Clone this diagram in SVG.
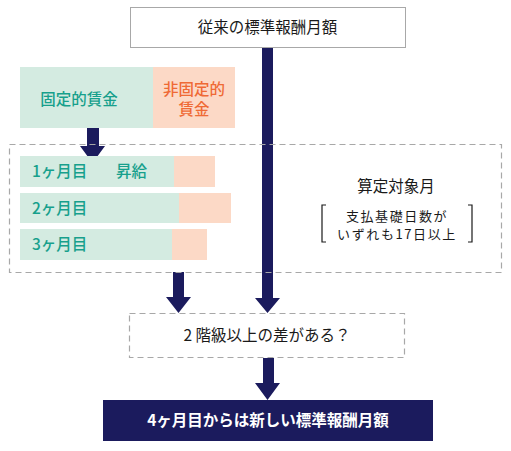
<svg xmlns="http://www.w3.org/2000/svg" width="511" height="451" viewBox="0 0 511 451">
<style>
text{font-family:"Noto Sans CJK JP","Noto Sans",sans-serif;}
.blk{fill:#1a1a1a;font-size:15.5px;}
.sm{fill:#1a1a1a;font-size:13px;letter-spacing:1.6px;}
.teal{fill:#17a08c;font-size:15.5px;font-weight:500;}
.org{fill:#ef6a35;font-size:15.5px;font-weight:500;}
.green{fill:#d4ebe1;}
.peach{fill:#fcd9c6;}
.dash{fill:none;stroke:#a8a8a8;stroke-width:1.2;stroke-dasharray:6 4;}
.navy{fill:#1b1b5d;}
</style>
<g id="connectors">
<path class="navy" d="M262,47 H273 V298 H280 L267.5,313 L255,298 H262 Z"/>
<path class="navy" d="M87,128 H99 V146 H105 L92.5,163 L80,146 H87 Z"/>
<path class="navy" d="M173,272 H184 V297 H191 L178.5,313 L166,297 H173 Z"/>
<path class="navy" d="M263,358 H274 V383 H280 L267.5,400 L255,383 H263 Z"/>
</g>
<g id="top-box">
<rect x="130.5" y="7.5" width="275" height="40" fill="#fff" stroke="#a8a8a8" stroke-width="1"/>
<text class="blk" x="267.5" y="33" text-anchor="middle">従来の標準報酬月額</text>
</g>
<g id="wage">
<rect class="green" x="20" y="67" width="133" height="61"/>
<rect class="peach" x="153" y="67" width="82" height="61"/>
<text class="teal" x="79" y="105" text-anchor="middle">固定的賃金</text>
<text class="org" text-anchor="middle"><tspan x="194" y="95">非固定的</tspan><tspan x="194" y="115">賃金</tspan></text>
</g>
<g id="months">
<rect class="dash" x="9.5" y="144.5" width="492" height="128"/>
<rect class="green" x="20" y="156" width="154" height="31"/>
<rect class="peach" x="174" y="156" width="41" height="31"/>
<rect class="green" x="20" y="193" width="159" height="30"/>
<rect class="peach" x="179" y="193" width="52" height="30"/>
<rect class="green" x="20" y="229" width="152" height="31"/>
<rect class="peach" x="172" y="229" width="35" height="31"/>
<text class="teal" x="32" y="177">1ヶ月目</text>
<text class="teal" x="116" y="177">昇給</text>
<text class="teal" x="32" y="214">2ヶ月目</text>
<text class="teal" x="32" y="250">3ヶ月目</text>
<text class="blk" x="396" y="192" text-anchor="middle">算定対象月</text>
<path d="M326,205 H322 V242 H326 M468,205 H472 V242 H468" fill="none" stroke="#1a1a1a" stroke-width="1.2"/>
<text class="sm" text-anchor="middle"><tspan x="397" y="221">支払基礎日数が</tspan><tspan x="397" y="239">いずれも17日以上</tspan></text>
</g>
<g id="question">
<rect class="dash" x="129.5" y="313.5" width="275" height="44"/>
<text class="blk" x="267" y="341" text-anchor="middle">2 階級以上の差がある？</text>
</g>
<g id="result">
<rect class="navy" x="103" y="400" width="330" height="41"/>
<text x="268" y="426" text-anchor="middle" style="fill:#fff;font-size:15.5px;font-weight:bold">4ヶ月目からは新しい標準報酬月額</text>
</g>
</svg>
